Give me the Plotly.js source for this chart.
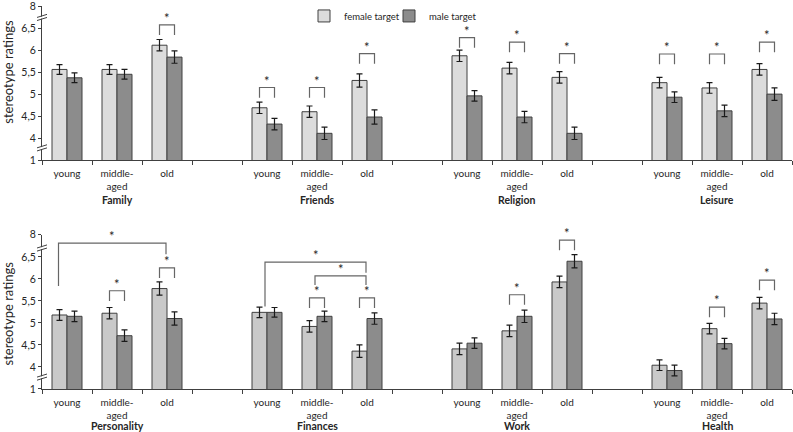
<!DOCTYPE html>
<html><head><meta charset="utf-8">
<script src="https://cdn.plot.ly/plotly-3.0.1.min.js"></script>
<style>html,body{margin:0;padding:0;background:#fff}</style>
</head><body><div id="chart" style="width:793px;height:432px"></div>
<script>
// ---- data ----
const ages = ['young', 'middle-aged', 'old'];
const ageTickText = ['young', 'middle-<br>aged', 'old'];
const topDomains = ['Family', 'Friends', 'Religion', 'Leisure'];
const bottomDomains = ['Personality', 'Finances', 'Work', 'Health'];

const topFemale    = [5.56, 5.56, 6.11,  4.69, 4.60, 5.31,  5.87, 5.59, 5.38,  5.26, 5.14, 5.56];
const topMale      = [5.37, 5.45, 5.84,  4.32, 4.11, 4.48,  4.96, 4.48, 4.11,  4.93, 4.62, 5.00];
const topFemaleErr = [0.11, 0.11, 0.13,  0.13, 0.13, 0.15,  0.13, 0.13, 0.13,  0.12, 0.12, 0.13];
const topMaleErr   = [0.11, 0.11, 0.14,  0.13, 0.14, 0.16,  0.12, 0.13, 0.14,  0.12, 0.13, 0.14];

const bottomFemale    = [5.18, 5.22, 5.78,  5.24, 4.92, 4.36,  4.41, 4.82, 5.93,  4.04, 4.87, 5.45];
const bottomMale      = [5.15, 4.71, 5.10,  5.24, 5.15, 5.10,  4.54, 5.15, 6.40,  3.92, 4.53, 5.09];
const bottomFemaleErr = [0.12, 0.13, 0.15,  0.12, 0.13, 0.14,  0.13, 0.13, 0.13,  0.12, 0.12, 0.13];
const bottomMaleErr   = [0.12, 0.13, 0.15,  0.11, 0.12, 0.13,  0.12, 0.14, 0.15,  0.12, 0.12, 0.13];

// significant female vs male differences: [domain, age, bracket level]
const topSig = [
  ['Family', 'old', 6.57],
  ['Friends', 'young', 5.15], ['Friends', 'middle-aged', 5.15], ['Friends', 'old', 5.92],
  ['Religion', 'young', 6.28], ['Religion', 'middle-aged', 6.18], ['Religion', 'old', 5.92],
  ['Leisure', 'young', 5.91], ['Leisure', 'middle-aged', 5.91], ['Leisure', 'old', 6.18]
];
const bottomSig = [
  ['Personality', 'middle-aged', 5.73], ['Personality', 'old', 6.25],
  ['Finances', 'middle-aged', 5.57], ['Finances', 'old', 5.57],
  ['Work', 'middle-aged', 5.64], ['Work', 'old', 6.88],
  ['Health', 'middle-aged', 5.36], ['Health', 'old', 5.97]
];
// significant differences between age groups: [domain, from age, to age, level, left end, right end]
const bottomSpans = [
  ['Personality', 'young', 'old', 6.81, 5.84, 6.56],
  ['Finances', 'young', 'old', 6.38, 5.37, 6.14],
  ['Finances', 'middle-aged', 'old', 6.07, 5.86, 5.86]
];

// y axis: broken scale, "1" shown at the base of the axis
const yTickVals = [3.5, 4, 4.5, 5, 5.5, 6, 6.5, 7];
const yTickText = ['1', '4', '4,5', '5', '5,5', '6', '6,5', '8'];

// ---- layout helpers ----
const FONT = 'Lato, "Liberation Sans", Arial, sans-serif';
const TXT = '#262626';
const AX = '#404040';
const GROUP = 4; // 3 ages + 1 spacer slot
const xPos = (domains) => domains.flatMap((d, di) => ages.map((a, ai) => di * GROUP + ai));
const tickVals = [0,1,2,3].flatMap(di => ages.map((a, ai) => di * GROUP + ai));
const tickText = [0,1,2,3].flatMap(() => ageTickText);
const boundaries = Array.from({length: 16}, (_, i) => i - 0.5);

const W = 793, H = 432, ML = 42, MR = 1, MT = 4, MB = 43;
const PW = W - ML - MR, PH = H - MT - MB;
const pyPaper = (p) => (H - MB - p) / PH;

function barTrace(xs, ys, errs, name, color, xa, ya, showlegend, legend) {
  return {
    type: 'bar', x: xs, y: ys, name: name, xaxis: xa, yaxis: ya, showlegend: showlegend, legend: legend,
    marker: {color: color, line: {color: AX, width: 1}},
    error_y: {type: 'data', array: errs, visible: true, color: '#1a1a1a', thickness: 1.2, width: 3},
    hoverinfo: 'x+y'
  };
}

const data = [
  barTrace(xPos(topDomains), topFemale, topFemaleErr, 'female target', '#dcdcdc', 'x', 'y', true, 'legend'),
  barTrace(xPos(topDomains), topMale, topMaleErr, 'male target', '#8c8c8c', 'x', 'y', true, 'legend2'),
  barTrace(xPos(bottomDomains), bottomFemale, bottomFemaleErr, 'female target', '#c9c9c9', 'x2', 'y2', false, 'legend'),
  barTrace(xPos(bottomDomains), bottomMale, bottomMaleErr, 'male target', '#8c8c8c', 'x2', 'y2', false, 'legend2')
];

const xAxisBase = {
  range: [-0.5, 14.5], tickmode: 'array', tickvals: tickVals, ticktext: tickText,
  ticks: '', showline: true, linecolor: AX, linewidth: 1, showgrid: false, zeroline: false,
  tickfont: {family: FONT, size: 10, color: TXT}, ticklabelstandoff: 4, ticklabeloverflow: 'allow',
  minor: {tickmode: 'array', tickvals: boundaries, ticks: 'outside', ticklen: 4, tickcolor: AX, tickwidth: 1, showgrid: false},
  fixedrange: true
};
const yAxisBase = {
  range: [3.5, 7], tickmode: 'array', tickvals: yTickVals, ticktext: yTickText,
  ticks: 'outside', ticklen: 3, tickcolor: AX, showline: true, linecolor: AX, linewidth: 1,
  ticklabeloverflow: 'allow',
  showgrid: false, zeroline: false, tickfont: {family: FONT, size: 10.5, color: TXT}, fixedrange: true
};

const shapes = [];
const annotations = [];

function addBracket(xa, ya, x1, x2, top, l1, l2) {
  shapes.push({type: 'path', xref: xa, yref: ya,
    path: `M ${x1},${l1} L ${x1},${top} L ${x2},${top} L ${x2},${l2}`,
    line: {color: '#666666', width: 1.2}, layer: 'above'});
  annotations.push({xref: xa, yref: ya, x: (x1 + x2) / 2, y: top, text: '*', showarrow: false,
    yanchor: 'bottom', yshift: -3, font: {family: FONT, size: 13, color: TXT}});
}
const LEG = 0.23;
function addPairSigs(list, domains, xa, ya) {
  list.forEach(([d, a, lvl]) => {
    const c = domains.indexOf(d) * GROUP + ages.indexOf(a);
    addBracket(xa, ya, c - 0.15, c + 0.15, lvl, lvl - LEG, lvl - LEG);
  });
}
addPairSigs(topSig, topDomains, 'x', 'y');
addPairSigs(bottomSig, bottomDomains, 'x2', 'y2');
const spanLeftOffset = {Personality: -0.17, Finances: -0.04};
bottomSpans.forEach(([d, a1, a2, lvl, e1, e2]) => {
  const b = bottomDomains.indexOf(d) * GROUP;
  addBracket('x2', 'y2', b + ages.indexOf(a1) + spanLeftOffset[d], b + ages.indexOf(a2) - 0.02, lvl, e1, e2);
});

// axis break marks
const px = (p) => p / PW;
[['y', 6.74], ['y', 3.78], ['y2', 6.70], ['y2', 3.77]].forEach(([ya, v]) => {
  const d = 0.07;
  shapes.push({type: 'path', xref: 'paper', yref: ya, layer: 'above',
    path: `M ${px(-5)},${v - d + 0.012} L ${px(5)},${v + 0.012} L ${px(5)},${v + d - 0.012} L ${px(-5)},${v - 0.012} Z`,
    fillcolor: '#ffffff', line: {width: 0}});
  shapes.push({type: 'line', xref: 'paper', yref: ya, layer: 'above',
    x0: px(-5), y0: v - d, x1: px(5), y1: v, line: {color: AX, width: 1}});
  shapes.push({type: 'line', xref: 'paper', yref: ya, layer: 'above',
    x0: px(-5), y0: v, x1: px(5), y1: v + d, line: {color: AX, width: 1}});
});

// domain names under each group
topDomains.forEach((d, di) => annotations.push({xref: 'x', yref: 'paper', x: di * GROUP + 1, y: pyPaper(199),
  text: '<b>' + d + '</b>', showarrow: false, yanchor: 'middle', font: {family: FONT, size: 10.5, color: TXT}}));
bottomDomains.forEach((d, di) => annotations.push({xref: 'x2', yref: 'paper', x: di * GROUP + 1, y: pyPaper(426),
  text: '<b>' + d + '</b>', showarrow: false, yanchor: 'middle', font: {family: FONT, size: 10.5, color: TXT}}));

// y axis titles
[[70], [313]].forEach(([cy]) => annotations.push({xref: 'paper', yref: 'paper', x: px(8 - ML), y: pyPaper(cy),
  text: 'stereotype ratings', textangle: -90, showarrow: false, xanchor: 'center', yanchor: 'middle',
  font: {family: FONT, size: 13, color: TXT}}));

const topDomainY = [pyPaper(159), 1];
const bottomDomainY = [0, pyPaper(234)];

const legendBase = {orientation: 'h', y: pyPaper(14), xanchor: 'left', yanchor: 'middle',
  font: {family: FONT, size: 9.5, color: TXT}, bgcolor: 'rgba(0,0,0,0)', itemwidth: 30};

const layout = {
  width: W, height: H,
  margin: {l: ML, r: MR, t: MT, b: MB, pad: 0},
  paper_bgcolor: '#ffffff', plot_bgcolor: 'rgba(0,0,0,0)',
  font: {family: FONT, size: 10.5, color: TXT},
  barmode: 'group', bargap: 0.4, bargroupgap: 0,
  showlegend: true,
  legend: Object.assign({}, legendBase, {x: px(304 - ML)}),
  legend2: Object.assign({}, legendBase, {x: px(389 - ML)}),
  xaxis: Object.assign({}, xAxisBase, {anchor: 'y', domain: [0, 1]}),
  yaxis: Object.assign({}, yAxisBase, {anchor: 'x', domain: topDomainY}),
  xaxis2: Object.assign({}, xAxisBase, {anchor: 'y2', domain: [0, 1]}),
  yaxis2: Object.assign({}, yAxisBase, {anchor: 'x2', domain: bottomDomainY}),
  shapes: shapes, annotations: annotations
};

Plotly.newPlot('chart', data, layout, {displayModeBar: false, staticPlot: true});
</script>
</body></html>
